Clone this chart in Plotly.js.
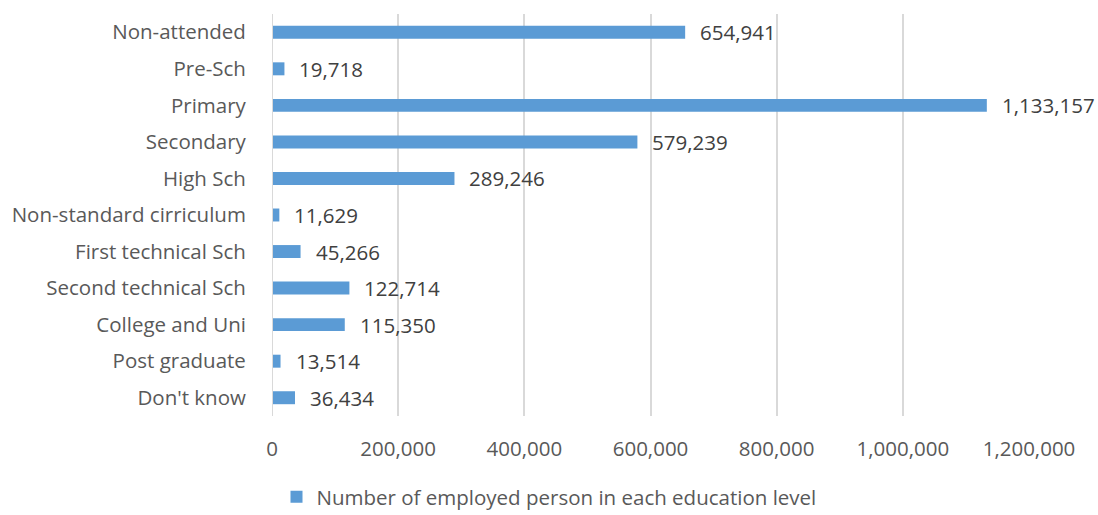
<!DOCTYPE html>
<html><head><meta charset="utf-8">
<script src="https://cdn.plot.ly/plotly-3.0.1.min.js"></script>
<style>html,body{margin:0;padding:0;background:#fff}#chart{width:1098px;height:515px}</style>
</head><body><div id="chart"></div>
<script>
const categories = ["Non-attended","Pre-Sch","Primary","Secondary","High Sch","Non-standard cirriculum","First technical Sch","Second technical Sch","College and Uni","Post graduate","Don't know"];
const values = [654941,19718,1133157,579239,289246,11629,45266,122714,115350,13514,36434];
const seriesName = "Number of employed person in each education level";
const tickVals = [0,200000,400000,600000,800000,1000000,1200000];
const tickText = ["0","200,000","400,000","600,000","800,000","1,000,000","1,200,000"];

const FONT = 'Open Sans';
const fmt = v => v.toLocaleString('en-US');
const annotations = categories.map((c,i)=>({
  x: values[i], y: c, xref:'x', yref:'y', text: fmt(values[i]),
  showarrow:false, xanchor:'left', xshift:13,
  font:{family:FONT, size:20.5, color:'#404040'}
}));

Plotly.newPlot('chart', [{
  type:'bar', orientation:'h', x: values, y: categories, name: seriesName,
  marker:{color:'#5B9BD5'}, showlegend:true
}], {
  width:1098, height:515,
  margin:{l:272, r:69, t:14, b:99},
  paper_bgcolor:'#fff', plot_bgcolor:'#fff',
  bargap:0.645,
  font:{family:FONT, size:20.5, color:'#595959'},
  xaxis:{range:[0,1200000], tickvals:tickVals, ticktext:tickText, showgrid:true,
    gridcolor:'#d9d9d9', gridwidth:2, zeroline:false, showline:false,
    ticks:'outside', ticklen:14, tickcolor:'rgba(0,0,0,0)', fixedrange:true,
    tickfont:{family:FONT, size:20.5, color:'#595959'}},
  yaxis:{categoryorder:'array', categoryarray:categories, autorange:'reversed',
    showgrid:false, zeroline:false, showline:false, ticks:'outside', ticklen:21,
    tickcolor:'rgba(0,0,0,0)',
    tickfont:{family:FONT, size:20.5, color:'#595959'}},
  shapes:[{type:'line', xref:'x', yref:'paper', x0:0, x1:0, y0:0, y1:1,
    line:{color:'#d9d9d9', width:2}}],
  annotations: annotations,
  legend:{orientation:'h', xref:'container', x:0.5, xanchor:'center', yref:'container', y:0.035, yanchor:'middle',
    font:{family:FONT, size:20.5, color:'#595959'}, itemwidth:30}
}, {staticPlot:true});
</script></body></html>
